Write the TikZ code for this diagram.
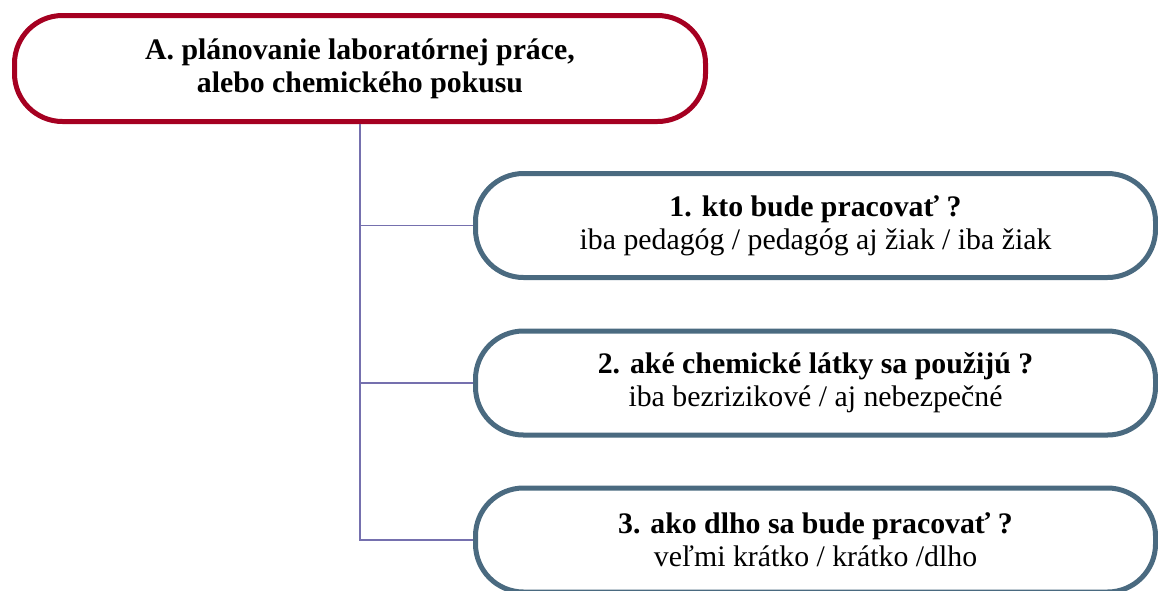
\documentclass[tikz,border=0pt]{standalone}
\usepackage{fontspec}
\setmainfont{Liberation Serif}
\definecolor{planred}{HTML}{A50021}
\definecolor{askgray}{HTML}{4A6A80}
\definecolor{treeline}{HTML}{7570AE}
\begin{document}
\begin{tikzpicture}[x=1pt,y=-1pt]
\tikzset{pill/.style={draw,line width=5pt,rounded corners=48pt,fill=white,align=center,inner sep=0pt,font=\fontsize{29.8}{33}\selectfont},
  plan/.style={pill,draw=planred,minimum width=691pt,minimum height=106pt},
  ask/.style={pill,draw=askgray,minimum width=680pt,minimum height=104pt},
  branch/.style={draw=treeline,line width=1.4pt}}
\useasboundingbox (0,0) rectangle (1158,590);
\node[plan] (A) at (360,68.5) {\textbf{A. plánovanie laboratórnej práce,}\\ \textbf{alebo chemického pokusu}};
\node[ask] (A1) at (815.5,225.5) {\textbf{1. kto bude pracovať ?}\\ iba pedagóg / pedagóg aj žiak / iba žiak};
\node[ask] (A2) at (815.5,383) {\textbf{2. aké chemické látky sa použijú ?}\\ iba bezrizikové / aj nebezpečné};
\node[ask] (A3) at (815.5,540) {\textbf{3. ako dlho sa bude pracovať ?}\\ veľmi krátko / krátko /dlho};
% trunk and branches
\draw[branch] (A.south) |- (A1.west);
\draw[branch] (A.south) |- (A2.west);
\draw[branch] (A.south) |- (A3.west);
\end{tikzpicture}
\end{document}
